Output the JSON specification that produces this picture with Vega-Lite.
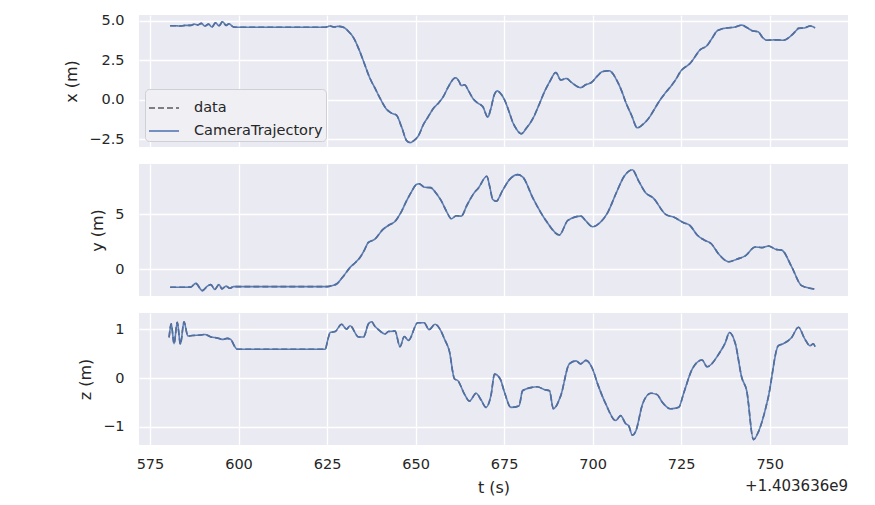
{
  "$schema": "https://vega.github.io/schema/vega-lite/v6.json",
  "background": "white",
  "padding": {"left": 63, "top": 12, "right": 20, "bottom": 5},
  "config": {
    "font": "DejaVu Sans",
    "view": {"fill": "#EAEAF2", "stroke": null},
    "axis": {
      "domain": false,
      "ticks": false,
      "gridColor": "white",
      "gridWidth": 1.3,
      "labelFontSize": 14.5,
      "labelColor": "#262626",
      "labelPadding": 15,
      "titleFontSize": 16,
      "titleFontWeight": "normal",
      "titleColor": "#262626",
      "titlePadding": 9
    },
    "legend": {
      "labelFontSize": 14.5,
      "labelColor": "#262626",
      "labelFont": "DejaVu Sans"
    },
    "line": {"strokeWidth": 1.6, "interpolate": "monotone"}
  },
  "title": {
    "text": "+1.403636e9",
    "orient": "bottom",
    "anchor": "end",
    "fontSize": 15,
    "fontWeight": "normal",
    "color": "#262626",
    "offset": -17,
    "dx": 0
  },
  "datasets": {
    "xs": [
      {"t": 580.7, "v": 4.70}, {"t": 582, "v": 4.70}, {"t": 583.5, "v": 4.68}, {"t": 585, "v": 4.72},
      {"t": 586.5, "v": 4.72}, {"t": 587.5, "v": 4.80}, {"t": 588.5, "v": 4.75}, {"t": 589.5, "v": 4.85},
      {"t": 590.5, "v": 4.68}, {"t": 591.5, "v": 4.80}, {"t": 592.5, "v": 4.62}, {"t": 593.5, "v": 4.88},
      {"t": 594.5, "v": 4.70}, {"t": 595.5, "v": 4.95}, {"t": 596.5, "v": 4.72}, {"t": 597.3, "v": 4.82},
      {"t": 598.6, "v": 4.62}, {"t": 600, "v": 4.60}, {"t": 610, "v": 4.60}, {"t": 620, "v": 4.60},
      {"t": 624.5, "v": 4.60}, {"t": 625.8, "v": 4.68}, {"t": 627, "v": 4.62}, {"t": 628, "v": 4.66},
      {"t": 629.6, "v": 4.60}, {"t": 631, "v": 4.35}, {"t": 632.5, "v": 3.93}, {"t": 634, "v": 3.2},
      {"t": 635.3, "v": 2.44}, {"t": 637.1, "v": 1.37}, {"t": 638.5, "v": 0.75}, {"t": 640, "v": 0.08},
      {"t": 641.8, "v": -0.6}, {"t": 643.2, "v": -0.85}, {"t": 644.6, "v": -0.98}, {"t": 646, "v": -1.7},
      {"t": 647.5, "v": -2.6}, {"t": 648.5, "v": -2.72}, {"t": 649.5, "v": -2.6}, {"t": 651, "v": -2.2},
      {"t": 652.1, "v": -1.62}, {"t": 653.5, "v": -1.1}, {"t": 655, "v": -0.56}, {"t": 656.5, "v": -0.2},
      {"t": 657.8, "v": 0.19}, {"t": 659.2, "v": 0.8}, {"t": 660.6, "v": 1.3}, {"t": 661.3, "v": 1.4},
      {"t": 662.3, "v": 1.15}, {"t": 662.9, "v": 0.9}, {"t": 663.8, "v": 0.95}, {"t": 665, "v": 0.55},
      {"t": 666.2, "v": 0.08}, {"t": 667.5, "v": -0.2}, {"t": 669, "v": -0.45}, {"t": 670.4, "v": -1.1},
      {"t": 671.2, "v": -0.6}, {"t": 672.2, "v": 0.3}, {"t": 673, "v": 0.56}, {"t": 674, "v": 0.4},
      {"t": 675.1, "v": 0.0}, {"t": 676.3, "v": -0.7}, {"t": 677.4, "v": -1.41}, {"t": 678.6, "v": -1.9},
      {"t": 679.8, "v": -2.16}, {"t": 681.3, "v": -1.8}, {"t": 683.1, "v": -1.2}, {"t": 684.8, "v": -0.35},
      {"t": 686.4, "v": 0.51}, {"t": 688, "v": 1.2}, {"t": 689.6, "v": 1.73}, {"t": 691, "v": 1.26},
      {"t": 692.6, "v": 1.35}, {"t": 694, "v": 1.1}, {"t": 696.6, "v": 0.77}, {"t": 698, "v": 0.95},
      {"t": 699.7, "v": 1.11}, {"t": 701.3, "v": 1.5}, {"t": 702.8, "v": 1.79}, {"t": 704.6, "v": 1.84},
      {"t": 707, "v": 1.15}, {"t": 708.2, "v": 0.55}, {"t": 709.3, "v": -0.13}, {"t": 711, "v": -1.0},
      {"t": 712.6, "v": -1.78}, {"t": 714, "v": -1.6}, {"t": 715.9, "v": -1.15}, {"t": 717.3, "v": -0.65},
      {"t": 718.7, "v": -0.13}, {"t": 720.4, "v": 0.4}, {"t": 722, "v": 0.83}, {"t": 723.5, "v": 1.3},
      {"t": 724.8, "v": 1.79}, {"t": 727.6, "v": 2.33}, {"t": 730.4, "v": 3.18}, {"t": 732.3, "v": 3.44},
      {"t": 733.7, "v": 3.9}, {"t": 735.1, "v": 4.36}, {"t": 736.5, "v": 4.5}, {"t": 738.4, "v": 4.57},
      {"t": 740.3, "v": 4.62}, {"t": 742.1, "v": 4.74}, {"t": 743.4, "v": 4.6}, {"t": 744.9, "v": 4.40},
      {"t": 746.8, "v": 4.3}, {"t": 748, "v": 3.95}, {"t": 749.2, "v": 3.78}, {"t": 751.5, "v": 3.80},
      {"t": 753.9, "v": 3.78}, {"t": 756.2, "v": 4.1}, {"t": 757.5, "v": 4.4}, {"t": 758.1, "v": 4.53},
      {"t": 759.8, "v": 4.56}, {"t": 761.4, "v": 4.68}, {"t": 762.8, "v": 4.57}
    ],
    "ys": [
      {"t": 580.7, "v": -1.66}, {"t": 583, "v": -1.66}, {"t": 586.5, "v": -1.64}, {"t": 587.9, "v": -1.30},
      {"t": 589.8, "v": -1.96}, {"t": 591.2, "v": -1.55}, {"t": 592.2, "v": -1.42}, {"t": 593.3, "v": -1.85},
      {"t": 594.5, "v": -1.40}, {"t": 595.3, "v": -1.80}, {"t": 596.5, "v": -1.55}, {"t": 597.5, "v": -1.75},
      {"t": 598.6, "v": -1.6}, {"t": 600, "v": -1.6}, {"t": 610, "v": -1.6}, {"t": 620, "v": -1.6},
      {"t": 625, "v": -1.6}, {"t": 626.5, "v": -1.5}, {"t": 627.7, "v": -1.36}, {"t": 629.5, "v": -0.7},
      {"t": 631.5, "v": 0.15}, {"t": 633, "v": 0.6}, {"t": 634.3, "v": 1.05}, {"t": 635.5, "v": 1.7},
      {"t": 636.6, "v": 2.4}, {"t": 638.5, "v": 2.71}, {"t": 640.8, "v": 3.61}, {"t": 642.5, "v": 4.0},
      {"t": 644.1, "v": 4.3}, {"t": 645.8, "v": 5.1}, {"t": 647.4, "v": 6.17}, {"t": 648.8, "v": 7.0},
      {"t": 650.2, "v": 7.68}, {"t": 651, "v": 7.75}, {"t": 652.6, "v": 7.43}, {"t": 654.2, "v": 7.4},
      {"t": 655.8, "v": 6.9}, {"t": 657.3, "v": 6.17}, {"t": 658.8, "v": 5.2}, {"t": 660.1, "v": 4.57},
      {"t": 661.5, "v": 4.85}, {"t": 662.9, "v": 4.81}, {"t": 664.5, "v": 5.8}, {"t": 666.2, "v": 6.77},
      {"t": 667.8, "v": 7.4}, {"t": 670.1, "v": 8.43}, {"t": 671, "v": 7.4}, {"t": 671.8, "v": 6.32},
      {"t": 672.8, "v": 6.17}, {"t": 674.5, "v": 7.1}, {"t": 676.5, "v": 8.13}, {"t": 678.8, "v": 8.58},
      {"t": 680.3, "v": 8.35}, {"t": 683.1, "v": 6.47}, {"t": 686.9, "v": 4.36}, {"t": 690.6, "v": 3.1},
      {"t": 693, "v": 4.43}, {"t": 696.7, "v": 4.81}, {"t": 698, "v": 4.4}, {"t": 700, "v": 3.85},
      {"t": 702, "v": 4.2}, {"t": 704.2, "v": 5.11}, {"t": 706.5, "v": 6.8}, {"t": 708.9, "v": 8.43},
      {"t": 711.2, "v": 9.03}, {"t": 713, "v": 8.0}, {"t": 715, "v": 6.92}, {"t": 717, "v": 6.5},
      {"t": 720.6, "v": 4.97}, {"t": 723, "v": 4.7}, {"t": 725.7, "v": 4.21}, {"t": 727.5, "v": 3.95},
      {"t": 729.5, "v": 3.1}, {"t": 731.4, "v": 2.65}, {"t": 733.5, "v": 2.3}, {"t": 735.6, "v": 1.36},
      {"t": 738.4, "v": 0.66}, {"t": 740.7, "v": 0.9}, {"t": 743.1, "v": 1.2}, {"t": 745.9, "v": 2.01},
      {"t": 747.8, "v": 1.95}, {"t": 749.7, "v": 2.1}, {"t": 751.6, "v": 1.8}, {"t": 753.4, "v": 1.72},
      {"t": 756.2, "v": 0.2}, {"t": 759, "v": -1.51}, {"t": 762.6, "v": -1.81}
    ],
    "zs": [
      {"t": 580.4, "v": 0.83}, {"t": 581, "v": 1.11}, {"t": 581.8, "v": 0.70}, {"t": 582.7, "v": 1.14},
      {"t": 583.6, "v": 0.69}, {"t": 584.6, "v": 1.15}, {"t": 585.7, "v": 0.86}, {"t": 587, "v": 0.87},
      {"t": 589.3, "v": 0.88}, {"t": 590.5, "v": 0.89}, {"t": 592.2, "v": 0.84}, {"t": 594, "v": 0.82},
      {"t": 595.4, "v": 0.79}, {"t": 596.8, "v": 0.81}, {"t": 597.8, "v": 0.79}, {"t": 598.8, "v": 0.66},
      {"t": 599.6, "v": 0.59}, {"t": 610, "v": 0.59}, {"t": 620, "v": 0.59}, {"t": 624.5, "v": 0.59},
      {"t": 625.2, "v": 0.78}, {"t": 625.9, "v": 0.93}, {"t": 627.3, "v": 0.95}, {"t": 629.1, "v": 1.1},
      {"t": 630.5, "v": 1.0}, {"t": 631.5, "v": 1.07}, {"t": 633.9, "v": 0.84}, {"t": 635.3, "v": 0.84},
      {"t": 636.7, "v": 1.11}, {"t": 637.6, "v": 1.15}, {"t": 638.5, "v": 1.06}, {"t": 639.5, "v": 0.99},
      {"t": 641.4, "v": 0.9}, {"t": 642.3, "v": 0.95}, {"t": 644.2, "v": 0.96}, {"t": 645.6, "v": 0.64},
      {"t": 646.8, "v": 0.85}, {"t": 648, "v": 0.77}, {"t": 650.6, "v": 1.13}, {"t": 652.4, "v": 1.13},
      {"t": 653.8, "v": 0.99}, {"t": 655.5, "v": 1.1}, {"t": 657.1, "v": 0.97}, {"t": 658.2, "v": 0.79},
      {"t": 659.5, "v": 0.56}, {"t": 661, "v": -0.02}, {"t": 661.9, "v": -0.05}, {"t": 663.8, "v": -0.33},
      {"t": 665.2, "v": -0.47}, {"t": 667.1, "v": -0.31}, {"t": 668.5, "v": -0.45}, {"t": 669.9, "v": -0.6},
      {"t": 671.3, "v": -0.35}, {"t": 672.3, "v": 0.08}, {"t": 673.9, "v": -0.02}, {"t": 675.1, "v": -0.29},
      {"t": 676.9, "v": -0.6}, {"t": 679.2, "v": -0.57}, {"t": 680.2, "v": -0.26}, {"t": 683, "v": -0.19},
      {"t": 684.3, "v": -0.18}, {"t": 686.5, "v": -0.24}, {"t": 687.8, "v": -0.26}, {"t": 688.9, "v": -0.63},
      {"t": 691, "v": -0.36}, {"t": 693.4, "v": 0.29}, {"t": 695.3, "v": 0.35}, {"t": 696.6, "v": 0.29},
      {"t": 698.1, "v": 0.36}, {"t": 700, "v": 0.18}, {"t": 701.4, "v": -0.12}, {"t": 703.7, "v": -0.53},
      {"t": 706.5, "v": -0.87}, {"t": 707.9, "v": -0.77}, {"t": 709.3, "v": -0.93}, {"t": 710.2, "v": -0.98},
      {"t": 711.2, "v": -1.17}, {"t": 712.1, "v": -1.1}, {"t": 714.1, "v": -0.53}, {"t": 716.4, "v": -0.31},
      {"t": 718.2, "v": -0.34}, {"t": 719.6, "v": -0.49}, {"t": 722, "v": -0.63}, {"t": 724.3, "v": -0.6},
      {"t": 725.7, "v": -0.31}, {"t": 728.1, "v": 0.18}, {"t": 730.9, "v": 0.37}, {"t": 732.3, "v": 0.23},
      {"t": 735.6, "v": 0.49}, {"t": 737.5, "v": 0.73}, {"t": 738.6, "v": 0.93}, {"t": 740.3, "v": 0.7},
      {"t": 742.1, "v": 0.01}, {"t": 743.5, "v": -0.26}, {"t": 745.4, "v": -1.26}, {"t": 746.8, "v": -1.1},
      {"t": 749.6, "v": -0.39}, {"t": 752.4, "v": 0.66}, {"t": 753.8, "v": 0.7}, {"t": 756.2, "v": 0.83},
      {"t": 758.1, "v": 1.04}, {"t": 759.9, "v": 0.8}, {"t": 761.4, "v": 0.66}, {"t": 762.3, "v": 0.7},
      {"t": 762.8, "v": 0.64}
    ]
  },
  "spacing": 17,
  "resolve": {"scale": {"color": "independent", "strokeDash": "independent", "y": "independent"}, "legend": {"color": "independent", "strokeDash": "independent"}},
  "vconcat": [
    {
      "width": 709,
      "height": 132,
      "data": {"name": "xs"},
      "encoding": {
        "x": {"field": "t", "type": "quantitative", "scale": {"domain": [571.9, 772.1], "nice": false, "zero": false},
              "axis": {"values": [575, 600, 625, 650, 675, 700, 725, 750], "labels": false, "title": null}},
        "y": {"field": "v", "type": "quantitative", "scale": {"domain": [-3.0, 5.38], "nice": false, "zero": false},
              "axis": {"values": [-2.5, 0, 2.5, 5], "format": ".1f", "title": "x (m)"}}
      },
      "layer": [
        {
          "mark": {"type": "line", "strokeWidth": 1.6},
          "encoding": {
            "color": {"datum": "data", "scale": {"domain": ["data", "CameraTrajectory"], "range": ["#5a5a5a", "#4c72b0"]},
                      "legend": {"title": null, "orient": "bottom-left", "offset": 6, "fillColor": "#EFEFF4", "strokeColor": "#CFCFD6", "cornerRadius": 4, "padding": 3, "symbolType": "M-1,0H1", "symbolSize": 900, "symbolStrokeWidth": 1.6, "rowPadding": -6, "labelOffset": 14}},
            "strokeDash": {"datum": "data", "scale": {"domain": ["data", "CameraTrajectory"], "range": [[6, 3], [1, 0]]},
                      "legend": {"title": null, "orient": "bottom-left", "offset": 6, "fillColor": "#EFEFF4", "strokeColor": "#CFCFD6", "cornerRadius": 4, "padding": 3, "symbolType": "M-1,0H1", "symbolSize": 900, "symbolStrokeWidth": 1.6, "rowPadding": -6, "labelOffset": 14}}
          }
        },
        {
          "mark": {"type": "line", "strokeWidth": 1.6, "opacity": 0.9},
          "encoding": {
            "color": {"datum": "CameraTrajectory"},
            "strokeDash": {"datum": "CameraTrajectory"}
          }
        }
      ]
    },
    {
      "width": 709,
      "height": 132,
      "data": {"name": "ys"},
      "encoding": {
        "x": {"field": "t", "type": "quantitative", "scale": {"domain": [571.9, 772.1], "nice": false, "zero": false},
              "axis": {"values": [575, 600, 625, 650, 675, 700, 725, 750], "labels": false, "title": null}},
        "y": {"field": "v", "type": "quantitative", "scale": {"domain": [-2.45, 9.55], "nice": false, "zero": false},
              "axis": {"values": [0, 5], "title": "y (m)"}}
      },
      "layer": [
        {
          "mark": {"type": "line", "strokeWidth": 1.6, "strokeDash": [6, 3], "color": "#5a5a5a"},
          "encoding": {}
        },
        {
          "mark": {"type": "line", "strokeWidth": 1.6, "color": "#4c72b0", "opacity": 0.9},
          "encoding": {}
        }
      ]
    },
    {
      "width": 709,
      "height": 132,
      "data": {"name": "zs"},
      "encoding": {
        "x": {"field": "t", "type": "quantitative", "scale": {"domain": [571.9, 772.1], "nice": false, "zero": false},
              "axis": {"values": [575, 600, 625, 650, 675, 700, 725, 750], "title": "t (s)", "labelPadding": 12, "titlePadding": 9}},
        "y": {"field": "v", "type": "quantitative", "scale": {"domain": [-1.37, 1.33], "nice": false, "zero": false},
              "axis": {"values": [-1, 0, 1], "title": "z (m)"}}
      },
      "layer": [
        {
          "mark": {"type": "line", "strokeWidth": 1.6, "strokeDash": [6, 3], "color": "#5a5a5a"},
          "encoding": {}
        },
        {
          "mark": {"type": "line", "strokeWidth": 1.6, "color": "#4c72b0", "opacity": 0.9},
          "encoding": {}
        }
      ]
    }
  ]
}
